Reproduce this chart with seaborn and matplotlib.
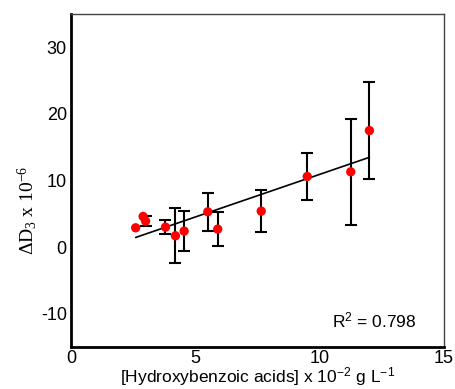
import matplotlib
matplotlib.use("Agg")
import matplotlib.pyplot as plt
import seaborn as sns
import numpy as np
import pandas as pd

# Data
conc = [2.6, 2.9, 3.0, 3.8, 4.2, 4.55, 5.5, 5.9, 7.65, 9.5, 11.25, 12.0]
delta_d3 = [2.9, 4.6, 3.9, 3.0, 1.7, 2.4, 5.3, 2.7, 5.4, 10.6, 11.3, 17.5]
err = [np.nan, np.nan, 0.75, 1.1, 4.1, 3.0, 2.85, 2.55, 3.15, 3.5, 8.0, 7.3]
fit_x = [2.6, 12.0]
fit_slope = 1.28
fit_intercept = -1.88
r2_text = "R$^2$ = 0.798"
xticks = [0, 5, 10, 15]
yticks = [-10, 0, 10, 20, 30]

df = pd.DataFrame({"x": conc, "y": delta_d3, "err": err})
fit = pd.DataFrame({"x": fit_x, "y": [fit_intercept + fit_slope * v for v in fit_x]})

sns.set_theme(style="white")
plt.rcParams["font.family"] = ["Liberation Sans", "DejaVu Sans"]
plt.rcParams["mathtext.default"] = "regular"
plt.rcParams["axes.unicode_minus"] = False

fig = plt.figure(figsize=(4.56, 3.89), dpi=100)
ax = fig.add_axes([71 / 456, 1 - 347 / 389, (444 - 71) / 456, (347 - 14) / 389])

sns.lineplot(data=fit, x="x", y="y", ax=ax, color="black", linewidth=1.2, zorder=2)
ax.errorbar(df["x"], df["y"], yerr=df["err"], fmt="none", ecolor="black",
            elinewidth=1.5, capsize=4, capthick=1.5, zorder=3)
sns.scatterplot(data=df, x="x", y="y", ax=ax, color="red", s=45,
                edgecolor="none", zorder=4)

ax.set_xlim(0, 15)
ax.set_ylim(-15, 35)
ax.set_xticks(xticks)
ax.set_yticks(yticks)
ax.tick_params(axis="both", direction="in", length=5, width=1.5, color="black",
               labelsize=13, labelcolor="black", pad=3)
ax.tick_params(axis="x", pad=2)

for s in ["left", "bottom"]:
    ax.spines[s].set_linewidth(2)
    ax.spines[s].set_color("black")
for s in ["top", "right"]:
    ax.spines[s].set_linewidth(1)
    ax.spines[s].set_color("#444444")

ax.set_xlabel("[Hydroxybenzoic acids] x 10$^{-2}$ g L$^{-1}$", fontsize=12.5,
              color="black", labelpad=-1)
ax.set_ylabel("ΔD$_3$ x 10$^{-6}$", fontsize=14, color="black",
              family=["Liberation Serif", "DejaVu Serif"])
ax.yaxis.set_label_coords(-0.085, 0.41)

ax.text(10.5, -11.0, r2_text, fontsize=12.5, color="black", va="center")

fig.savefig("out.png", dpi=100)
